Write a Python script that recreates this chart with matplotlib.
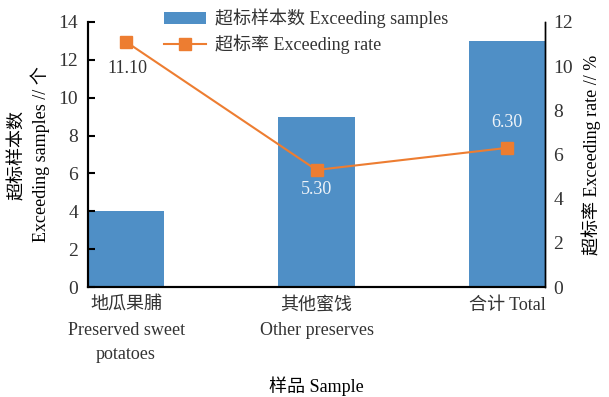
import matplotlib
matplotlib.use('Agg')
import matplotlib.pyplot as plt
import numpy as np

plt.rcParams['font.family'] = ['Liberation Serif', 'Noto Sans CJK SC']
plt.rcParams['text.color'] = '#333333'

categories = ['地瓜果脯\nPreserved sweet\npotatoes', '其他蜜饯\nOther preserves', '合计 Total']
samples = [4, 9, 13]
rate = [11.10, 5.30, 6.30]
rate_labels = ['11.10', '5.30', '6.30']

bar_color = '#4f8fc6'
line_color = '#ed7d31'

fig = plt.figure(figsize=(6.09, 3.97), dpi=100)
ax1 = fig.add_axes([0.1445, 0.277, 0.7505, 0.6676])
ax2 = ax1.twinx()

x = np.arange(len(categories))
bars = ax1.bar(x, samples, width=0.4, color=bar_color, label='超标样本数 Exceeding samples')
line, = ax2.plot(x, rate, color=line_color, lw=1.5, marker='s', ms=8.5,
                 label='超标率 Exceeding rate')

ax1.set_xlim(-0.2, 2.2)
ax1.set_ylim(0, 14)
ax2.set_ylim(0, 12)
ax1.set_yticks(range(0, 15, 2))
ax2.set_yticks(range(0, 13, 2))
ax1.set_xticks(x)
ax1.set_xticklabels(categories, fontsize=13, linespacing=1.6)

for ax in (ax1, ax2):
    ax.spines['top'].set_visible(False)
    ax.spines['left'].set_color('black')
    ax.spines['bottom'].set_color('black')
    ax.spines['right'].set_color('black')
    ax.spines['left'].set_linewidth(1.5)
    ax.spines['bottom'].set_linewidth(1.5)
    ax.spines['right'].set_linewidth(1.0)

ax1.tick_params(axis='y', direction='in', length=5, width=1.5, labelsize=14, pad=7,
                labelcolor='#333333')
ax1.tick_params(axis='x', length=0, pad=7, labelcolor='#333333')
ax2.tick_params(axis='y', direction='in', length=0, labelsize=14, pad=6,
                labelcolor='#333333')

ax1.set_ylabel('超标样本数\nExceeding samples // 个', fontsize=13, labelpad=6,
               linespacing=1.3)
ax2.set_ylabel('超标率 Exceeding rate // %', fontsize=13, labelpad=6)
ax1.set_xlabel('样品 Sample', fontsize=13, labelpad=9)

# 11.10 sits outside the bar (dark), the other two sit on the bars (light)
offsets = [(1, -19), (0, -14), (0, 18)]
label_colors = ['#333333', '#eef3f8', '#eef3f8']
for xi, r, lab, off, c in zip(x, rate, rate_labels, offsets, label_colors):
    ax2.annotate(lab, (xi, r), xytext=off, textcoords='offset points',
                 ha='center', va='center', fontsize=13, color=c)

fig.legend(handles=[bars, line], loc='upper left', bbox_to_anchor=(0.252, 1.005),
           frameon=False, fontsize=13, handlelength=2.3, handleheight=0.7,
           labelspacing=0.35, borderaxespad=0.2, handletextpad=0.5)

fig.savefig('out.png', dpi=100)
